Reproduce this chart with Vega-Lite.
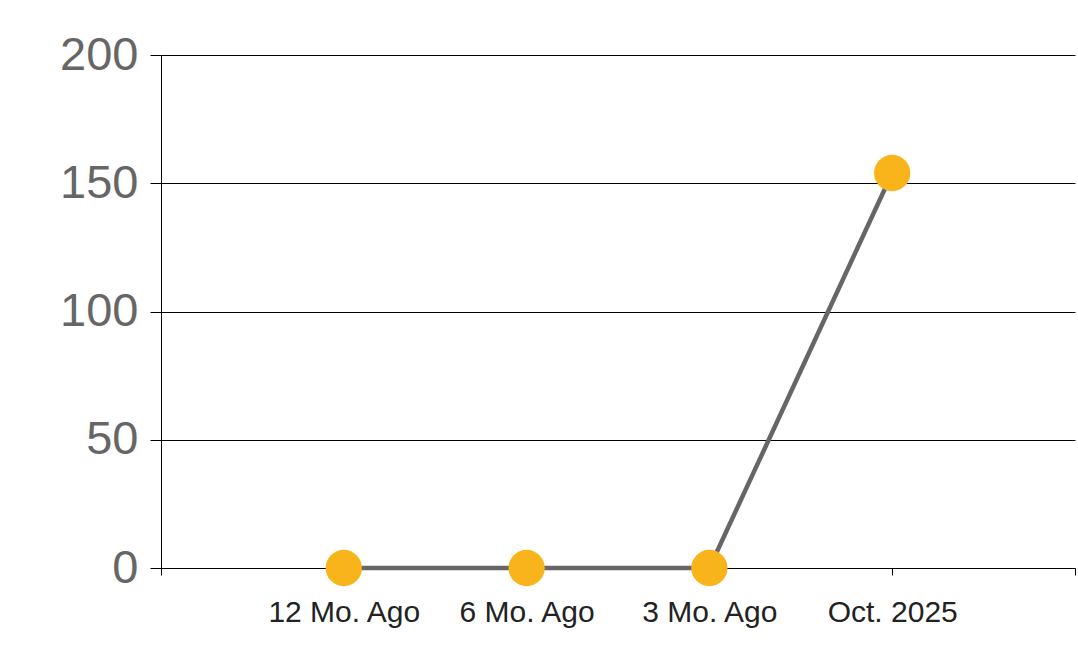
{
  "$schema": "https://vega.github.io/schema/vega-lite/v6.json",
  "width": 914,
  "height": 513,
  "autosize": {"type": "none"},
  "padding": {"left": 161, "top": 55, "right": 3, "bottom": 95},
  "background": "white",
  "config": {"view": {"stroke": null}, "font": "Liberation Sans"},
  "data": {"values": [
    {"period": "12 Mo. Ago", "value": 0},
    {"period": "6 Mo. Ago", "value": 0},
    {"period": "3 Mo. Ago", "value": 0},
    {"period": "Oct. 2025", "value": 154}
  ]},
  "encoding": {
    "x": {
      "field": "period", "type": "ordinal",
      "scale": {"type": "point", "domain": ["", "12 Mo. Ago", "6 Mo. Ago", "3 Mo. Ago", "Oct. 2025", " "], "padding": 0},
      "axis": {
        "title": null, "labelAngle": 0, "labelFont": "Liberation Sans", "labelFontSize": 30,
        "labelColor": "#222222", "labelPadding": 22, "tickColor": "black", "tickSize": 7,
        "domainColor": "black", "domainWidth": 1, "tickWidth": 1, "grid": false, "labelOverlap": false
      }
    },
    "y": {
      "field": "value", "type": "quantitative",
      "scale": {"domain": [0, 200], "nice": false},
      "axis": {
        "title": null, "values": [0, 50, 100, 150, 200], "labelFont": "Liberation Sans", "labelFontSize": 47,
        "labelColor": "#666666", "labelPadding": 12, "tickColor": "black", "tickSize": 11,
        "domainColor": "black", "grid": true, "gridColor": "black", "gridWidth": 1, "gridOpacity": 1
      }
    }
  },
  "layer": [
    {"mark": {"type": "line", "color": "#666666", "strokeWidth": 4.5}},
    {"mark": {"type": "circle", "color": "#F9B31B", "opacity": 1, "size": 1320}}
  ]
}
